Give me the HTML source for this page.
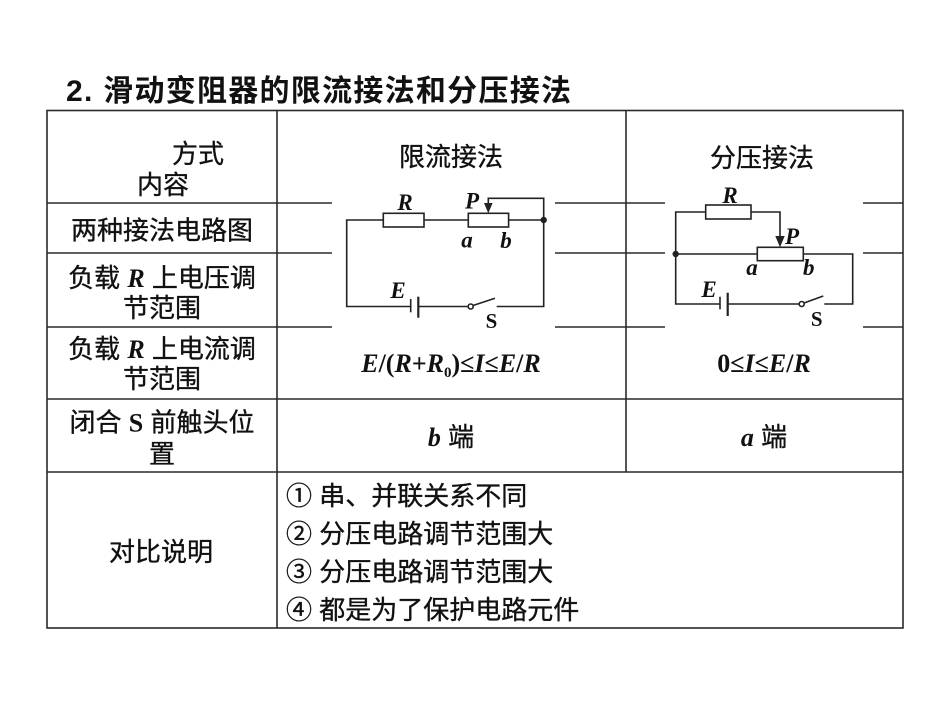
<!DOCTYPE html>
<html><head><meta charset="utf-8"><style>
html,body{margin:0;padding:0;background:#fff;}
svg{display:block;}
.cj{font-family:"Liberation Sans","Noto Sans CJK SC",sans-serif;font-size:26px;fill:#111;stroke:#111;stroke-width:0.35px;}
.mi{font-family:"Liberation Serif",serif;font-style:italic;font-weight:bold;stroke-width:0;}
.mb{font-family:"Liberation Serif",serif;font-weight:bold;stroke-width:0;}
.lb{font-family:"Liberation Serif",serif;font-style:italic;font-weight:bold;font-size:23px;fill:#111;}
.sb{font-family:"Liberation Serif",serif;font-weight:bold;font-size:21px;fill:#111;}
</style></head><body>
<svg width="950" height="713" viewBox="0 0 950 713" xmlns="http://www.w3.org/2000/svg">
<rect width="950" height="713" fill="#fff"/>
<!-- title -->
<text x="66" y="101" font-family="'Liberation Sans','Noto Sans CJK SC',sans-serif" font-size="30" font-weight="bold" fill="#111" textLength="505" lengthAdjust="spacing">2. 滑动变阻器的限流接法和分压接法</text>

<!-- table lines -->
<g stroke="#2a2a2a" stroke-width="1.6" fill="none">
  <rect x="47" y="110.5" width="856" height="517.5"/>
  <line x1="277" y1="110.5" x2="277" y2="628"/>
  <line x1="626" y1="110.5" x2="626" y2="472"/>
  <line x1="47" y1="203" x2="332" y2="203"/><line x1="555" y1="203" x2="665" y2="203"/><line x1="863" y1="203" x2="903" y2="203"/>
  <line x1="47" y1="253" x2="332" y2="253"/><line x1="555" y1="253" x2="665" y2="253"/><line x1="863" y1="253" x2="903" y2="253"/>
  <line x1="47" y1="327" x2="332" y2="327"/><line x1="555" y1="327" x2="665" y2="327"/><line x1="863" y1="327" x2="903" y2="327"/>
  <line x1="47" y1="399" x2="903" y2="399"/>
  <line x1="47" y1="472" x2="903" y2="472"/>
</g>

<!-- column 1 texts -->
<text class="cj" x="198" y="163" text-anchor="middle">方式</text>
<text class="cj" x="163" y="194" text-anchor="middle">内容</text>
<text class="cj" x="162" y="239.5" text-anchor="middle">两种接法电路图</text>
<text class="cj" x="162" y="287" text-anchor="middle">负载 <tspan class="mi">R</tspan> 上电压调</text>
<text class="cj" x="162" y="317" text-anchor="middle">节范围</text>
<text class="cj" x="162" y="358" text-anchor="middle">负载 <tspan class="mi">R</tspan> 上电流调</text>
<text class="cj" x="162" y="388" text-anchor="middle">节范围</text>
<text class="cj" x="162" y="431.5" text-anchor="middle">闭合 <tspan class="mb">S</tspan> 前触头位</text>
<text class="cj" x="162" y="463" text-anchor="middle">置</text>
<text class="cj" x="161" y="561" text-anchor="middle">对比说明</text>

<!-- headers -->
<text class="cj" x="451" y="166" text-anchor="middle">限流接法</text>
<text class="cj" x="762" y="167" text-anchor="middle">分压接法</text>

<!-- formulas -->
<text class="cj" x="451" y="372" text-anchor="middle"><tspan class="mi">E</tspan><tspan class="mb">/(</tspan><tspan class="mi">R</tspan><tspan class="mb">+</tspan><tspan class="mi">R</tspan><tspan class="mb" font-size="15" dy="5">0</tspan><tspan class="mb" dy="-5">)≤</tspan><tspan class="mi">I</tspan><tspan class="mb">≤</tspan><tspan class="mi">E</tspan><tspan class="mb">/</tspan><tspan class="mi">R</tspan></text>
<text class="cj" x="764" y="372" text-anchor="middle"><tspan class="mb">0≤</tspan><tspan class="mi">I</tspan><tspan class="mb">≤</tspan><tspan class="mi">E</tspan><tspan class="mb">/</tspan><tspan class="mi">R</tspan></text>
<text class="cj" x="451" y="446" text-anchor="middle"><tspan class="mi">b</tspan> 端</text>
<text class="cj" x="764" y="446" text-anchor="middle"><tspan class="mi">a</tspan> 端</text>

<!-- list -->
<text class="cj" x="286" y="505">① 串、并联关系不同</text>
<text class="cj" x="286" y="543">② 分压电路调节范围大</text>
<text class="cj" x="286" y="581">③ 分压电路调节范围大</text>
<text class="cj" x="286" y="619">④ 都是为了保护电路元件</text>

<!-- circuit 1 (限流) -->
<g stroke="#222" stroke-width="1.6" fill="none">
  <polyline points="383.3,220 346.7,220 346.7,306.5 410.7,306.5"/>
  <rect x="383.3" y="213.3" width="40.7" height="13.7"/>
  <line x1="424" y1="220" x2="468.3" y2="220"/>
  <rect x="468.3" y="213.3" width="40.3" height="13.7"/>
  <line x1="508.6" y1="220" x2="543.7" y2="220"/>
  <polyline points="488.3,204 488.3,198.3 543.7,198.3 543.7,306.5 496.7,306.5"/>
  <line x1="410.7" y1="299" x2="410.7" y2="312.3"/>
  <line x1="418.3" y1="296.7" x2="418.3" y2="317.7" stroke-width="2.2"/>
  <line x1="418.3" y1="306.5" x2="468.2" y2="306.5"/>
  <circle cx="470.7" cy="306.5" r="2.5"/>
  <line x1="473" y1="305.5" x2="495" y2="298.3"/>
</g>
<polygon points="484,203 492.6,203 488.3,213.3" fill="#222"/>
<circle cx="543.7" cy="220" r="3.2" fill="#222"/>
<text class="lb" x="405" y="210" text-anchor="middle">R</text>
<text class="lb" x="465" y="208.5">P</text>
<text class="lb" x="467" y="247.5" text-anchor="middle">a</text>
<text class="lb" x="506" y="248" text-anchor="middle">b</text>
<text class="lb" x="398" y="298" text-anchor="middle">E</text>
<text class="sb" x="491.5" y="328" text-anchor="middle">S</text>

<!-- circuit 2 (分压) -->
<g stroke="#222" stroke-width="1.6" fill="none">
  <polyline points="705.7,212 675.7,212 675.7,304 720,304"/>
  <rect x="705.7" y="205" width="45.3" height="14"/>
  <polyline points="751,212 780,212 780,237"/>
  <line x1="675.7" y1="254" x2="757.3" y2="254"/>
  <rect x="757.3" y="247.3" width="46" height="13.4"/>
  <polyline points="803.3,254 852.7,254 852.7,304 824.3,304"/>
  <line x1="720" y1="296.7" x2="720" y2="309.3"/>
  <line x1="727.7" y1="292.7" x2="727.7" y2="316" stroke-width="2.2"/>
  <line x1="727.7" y1="304" x2="799.2" y2="304"/>
  <circle cx="801.7" cy="304" r="2.5"/>
  <line x1="804" y1="303" x2="823.3" y2="296"/>
</g>
<polygon points="775.3,236 784.7,236 780,247.3" fill="#222"/>
<circle cx="675.7" cy="254" r="3.2" fill="#222"/>
<text class="lb" x="730" y="203" text-anchor="middle">R</text>
<text class="lb" x="785" y="244">P</text>
<text class="lb" x="752" y="275" text-anchor="middle">a</text>
<text class="lb" x="808.7" y="275" text-anchor="middle">b</text>
<text class="lb" x="709" y="297" text-anchor="middle">E</text>
<text class="sb" x="816.7" y="326" text-anchor="middle">S</text>
</svg>
</body></html>
